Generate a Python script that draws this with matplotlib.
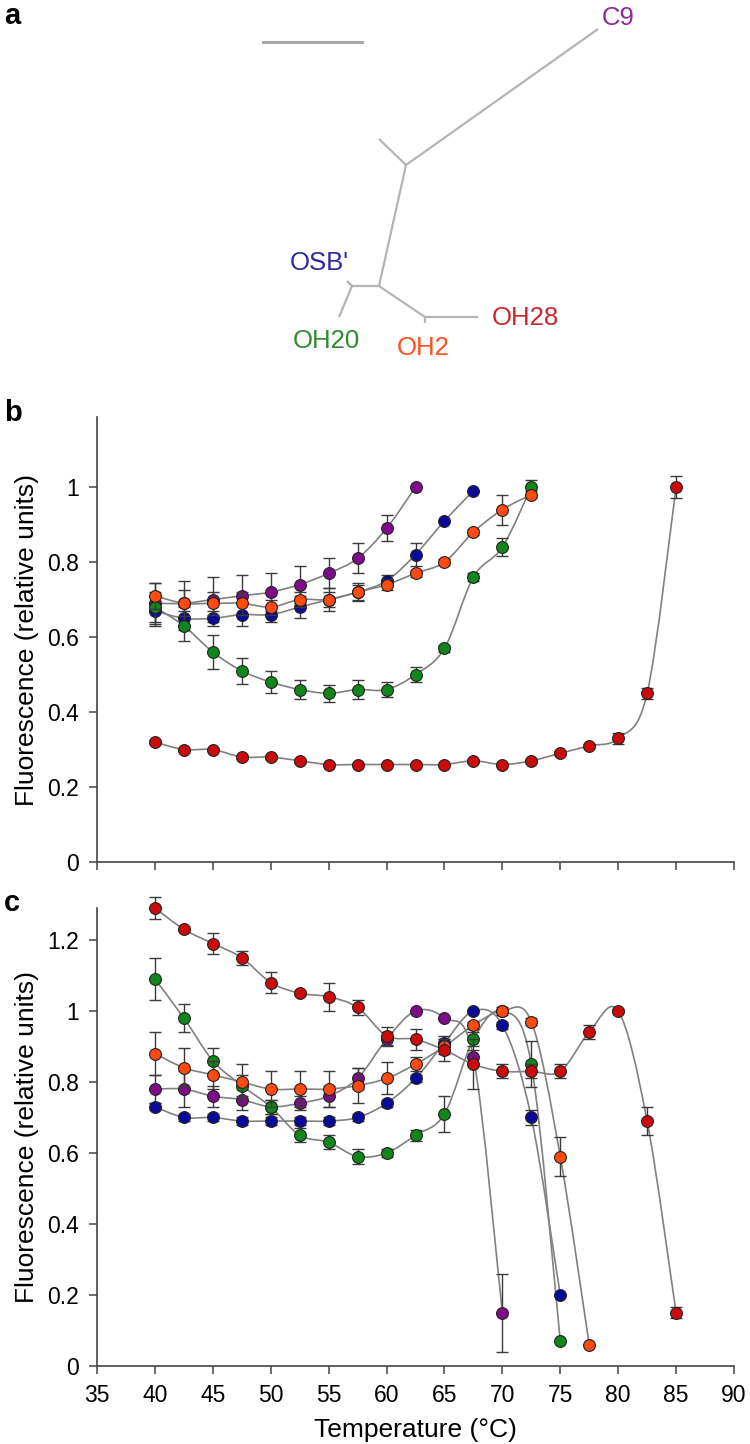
import numpy as np
import matplotlib
matplotlib.use('Agg')
import matplotlib.pyplot as plt
from matplotlib.path import Path
from matplotlib.patches import PathPatch
import matplotlib.ticker as ticker

plt.rcParams['font.family'] = ['Liberation Sans', 'DejaVu Sans']

# --- panel a: tree (pixel coords of the original layout) ---
tree_nodes = {
    'bar0': (263, 42), 'bar1': (362, 42),
    'n1': (406, 165), 'c9': (598, 29), 'stub1': (379, 139),
    'n2': (379, 286), 'n3': (352, 286), 'osb': (347, 281), 'oh20': (339, 317),
    'n4': (425, 317), 'oh2': (425, 323), 'oh28': (478, 317),
}
tree_edges = [('n1', 'c9'), ('n1', 'stub1'), ('n1', 'n2'), ('n2', 'n3'),
              ('n3', 'osb'), ('n3', 'oh20'), ('n2', 'n4'), ('n4', 'oh2'),
              ('n4', 'oh28')]
tree_labels = ['C9', "OSB'", 'OH20', 'OH2', 'OH28']
tree_label_pos = [(602, 18), (290, 263), (293, 341), (397, 348), (492, 318)]
tree_label_col = ['#8e2a9c', '#2a2aa6', '#2e8b2e', '#ff5020', '#c8282d']

# --- panel b ---
temp_b = {
    'purple': np.arange(40, 62.6, 2.5),
    'blue': np.arange(40, 67.6, 2.5),
    'green': np.arange(40, 72.6, 2.5),
    'orange': np.arange(40, 72.6, 2.5),
    'red': np.arange(40, 85.1, 2.5),
}
fluo_b = {
    'purple': [0.69, 0.69, 0.70, 0.71, 0.72, 0.74, 0.77, 0.81, 0.89, 1.00],
    'blue': [0.67, 0.65, 0.65, 0.66, 0.66, 0.68, 0.70, 0.72, 0.75, 0.82, 0.91, 0.99],
    'green': [0.68, 0.63, 0.56, 0.51, 0.48, 0.46, 0.45, 0.46, 0.46, 0.50, 0.57, 0.76, 0.84, 1.00],
    'orange': [0.71, 0.69, 0.69, 0.69, 0.68, 0.70, 0.70, 0.72, 0.74, 0.77, 0.80, 0.88, 0.94, 0.98],
    'red': [0.32, 0.30, 0.30, 0.28, 0.28, 0.27, 0.26, 0.26, 0.26, 0.26, 0.26, 0.27, 0.26,
            0.27, 0.29, 0.31, 0.33, 0.45, 1.00],
}
err_b = {
    'purple': [0.055, 0.06, 0.06, 0.055, 0.05, 0.05, 0.04, 0.04, 0.035, 0.0],
    'blue': [0.04, 0.03, 0.02, 0.03, 0.02, 0.03, 0.02, 0.02, 0.015, 0.03, 0.0, 0.0],
    'green': [0.04, 0.04, 0.045, 0.035, 0.03, 0.025, 0.022, 0.025, 0.02, 0.02, 0.01, 0.01, 0.025, 0.02],
    'orange': [0.035, 0.035, 0.03, 0.03, 0.02, 0.02, 0.03, 0.025, 0.015, 0.01, 0.008, 0.008, 0.04, 0.01],
    'red': [0.005] * 16 + [0.015, 0.015, 0.03],
}

# --- panel c ---
temp_c = {
    'purple': np.arange(40, 70.1, 2.5),
    'blue': np.arange(40, 75.1, 2.5),
    'green': np.arange(40, 75.1, 2.5),
    'orange': np.arange(40, 77.6, 2.5),
    'red': np.arange(40, 85.1, 2.5),
}
fluo_c = {
    'purple': [0.78, 0.78, 0.76, 0.75, 0.73, 0.74, 0.76, 0.81, 0.92, 1.00, 0.98, 0.87, 0.15],
    'blue': [0.73, 0.70, 0.70, 0.69, 0.69, 0.69, 0.69, 0.70, 0.74, 0.81, 0.91, 1.00, 0.96, 0.70, 0.20],
    'green': [1.09, 0.98, 0.86, 0.79, 0.73, 0.65, 0.63, 0.59, 0.60, 0.65, 0.71, 0.92, 1.00, 0.85, 0.07],
    'orange': [0.88, 0.84, 0.82, 0.80, 0.78, 0.78, 0.78, 0.79, 0.81, 0.85, 0.90, 0.96, 1.00, 0.97, 0.59, 0.06],
    'red': [1.29, 1.23, 1.19, 1.15, 1.08, 1.05, 1.04, 1.01, 0.93, 0.92, 0.89, 0.85, 0.83,
            0.83, 0.83, 0.94, 1.00, 0.69, 0.15],
}
err_c = {
    'purple': [0.04, 0.05, 0.03, 0.03, 0.02, 0.02, 0.03, 0.03, 0.02, 0.0, 0.0, 0.02, 0.11],
    'blue': [0.01, 0.01, 0.01, 0.01, 0.01, 0.01, 0.01, 0.01, 0.01, 0.01, 0.02, 0.0, 0.01, 0.02, 0.0],
    'green': [0.06, 0.04, 0.035, 0.03, 0.02, 0.02, 0.02, 0.02, 0.01, 0.015, 0.05, 0.02, 0.01, 0.065, 0.0],
    'orange': [0.06, 0.055, 0.04, 0.05, 0.05, 0.05, 0.05, 0.05, 0.045, 0.02, 0.02, 0.01, 0.0, 0.01, 0.055, 0.0],
    'red': [0.03, 0.005, 0.03, 0.02, 0.03, 0.005, 0.04, 0.02, 0.025, 0.03, 0.03, 0.07, 0.02,
            0.02, 0.02, 0.02, 0.005, 0.04, 0.015],
}

series_order = ['purple', 'blue', 'green', 'orange', 'red']
colors = {'purple': '#7f0a8a', 'blue': '#0a0a9a', 'green': '#11861a',
          'orange': '#ff4a10', 'red': '#cc0a0a'}


def smooth_path(x, y):
    # Catmull-Rom curve through the points, written as cubic Bezier segments
    pts = np.column_stack([x, y]).astype(float)
    p = np.vstack([pts[0], pts, pts[-1]])
    verts = [pts[0]]
    codes = [Path.MOVETO]
    for i in range(1, len(p) - 2):
        p0, p1, p2, p3 = p[i - 1], p[i], p[i + 1], p[i + 2]
        verts += [p1 + (p2 - p0) / 6, p2 - (p3 - p1) / 6, p2]
        codes += [Path.CURVE4] * 3
    return Path(verts, codes)


def draw_panel(ax, temps, vals, errs, ymax, yticks):
    for k in series_order:
        ax.add_patch(PathPatch(smooth_path(temps[k], vals[k]), fill=False,
                               edgecolor='#808080', lw=1.2, zorder=1, clip_on=False))
    for i, k in enumerate(series_order):
        eb = ax.errorbar(temps[k], vals[k], yerr=errs[k], fmt='none', ecolor='#3a3a3a',
                         elinewidth=1.0, capsize=4.5, capthick=1.0, zorder=2 + 2 * i)
        for art in eb.lines[1] + eb.lines[2]:
            art.set_clip_on(False)
        ax.plot(temps[k], vals[k], 'o', ms=8.5, mfc=colors[k], mec='#222222',
                mew=0.8, zorder=3 + 2 * i, clip_on=False)
    ax.set_xlim(35, 90)
    ax.set_ylim(0, ymax)
    ax.spines['top'].set_visible(False)
    ax.spines['right'].set_visible(False)
    for s in ('left', 'bottom'):
        ax.spines[s].set_color('#444444')
        ax.spines[s].set_linewidth(1.2)
    ax.xaxis.set_major_locator(ticker.MultipleLocator(5))
    ax.set_yticks(yticks)
    ax.yaxis.set_major_formatter(ticker.FuncFormatter(lambda v, p: f'{v:g}'))
    ax.tick_params(direction='out', length=6, width=1.1, color='#444444',
                   labelsize=16.5, pad=7)
    ax.set_ylabel('Fluorescence (relative units)', fontsize=19, labelpad=6)


W, H = 750, 1444
fig = plt.figure(figsize=(W / 100, H / 100), dpi=100)

# panel a
axa = fig.add_axes([0, 1 - 370 / H, 1, 370 / H])
axa.set_xlim(0, W)
axa.set_ylim(370, 0)
axa.axis('off')
axa.plot([tree_nodes['bar0'][0], tree_nodes['bar1'][0]],
         [tree_nodes['bar0'][1], tree_nodes['bar1'][1]], color='#a8a8a8', lw=2.2)
for a, b in tree_edges:
    axa.plot([tree_nodes[a][0], tree_nodes[b][0]], [tree_nodes[a][1], tree_nodes[b][1]],
             color='#b4b4b4', lw=1.6, solid_capstyle='butt')
for lab, (lx, ly), c in zip(tree_labels, tree_label_pos, tree_label_col):
    axa.text(lx, ly, lab, color=c, fontsize=18.5, ha='left', va='center')

# panel b
axb = fig.add_axes([97 / W, 1 - 862 / H, (734 - 97) / W, (862 - 417) / H])
draw_panel(axb, temp_b, fluo_b, err_b, 1.187, [0, 0.2, 0.4, 0.6, 0.8, 1.0])
axb.tick_params(axis='x', labelbottom=False)

# panel c
axc = fig.add_axes([97 / W, 1 - 1366 / H, (734 - 97) / W, (1366 - 908) / H])
draw_panel(axc, temp_c, fluo_c, err_c, 1.29, [0, 0.2, 0.4, 0.6, 0.8, 1.0, 1.2])
axc.set_xlabel('Temperature (°C)', fontsize=19, labelpad=8)

for lab, y in (('a', 16), ('b', 413), ('c', 903)):
    fig.text(4 / W, 1 - y / H, lab, fontsize=21, fontweight='bold', va='center', ha='left')

fig.savefig('out.png', dpi=100)
